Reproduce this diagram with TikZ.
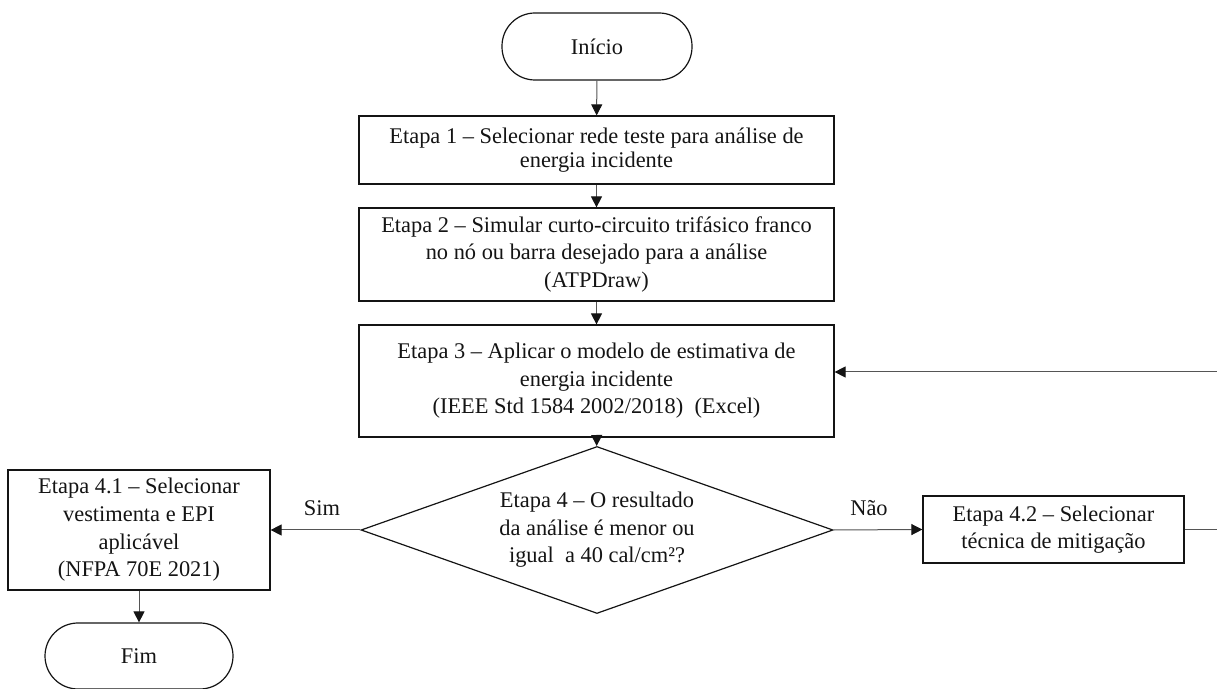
\documentclass[tikz,border=0pt]{standalone}
\usepackage{fontspec}
\setmainfont{Liberation Serif}
\usetikzlibrary{arrows.meta, shapes.geometric}
\definecolor{fluxblack}{RGB}{20, 20, 20}
\definecolor{fluxgray}{RGB}{85, 85, 85}

\begin{document}
\begin{tikzpicture}[x=0.5pt, y=-0.5pt,
    texto/.style={font=\fontsize{11.2}{13.8}\selectfont, text=fluxblack, align=center, inner sep=0pt},
    terminal/.style={texto, draw=fluxblack, line width=0.6pt, rectangle, rounded corners=16.5pt},
    etapa/.style={texto, draw=fluxblack, line width=0.6pt, rectangle},
    decisao/.style={texto, draw=fluxblack, line width=0.6pt, diamond, aspect=2.8},
    conector/.style={draw=fluxgray, line width=0.5pt, ->, >={Triangle[length=5.5pt, width=5.5pt, color=fluxblack]}}]

% Moldura da figura
\clip (0,0) rectangle (1217,689);

% Início
\node[terminal, minimum width=95pt, minimum height=33.5pt] (inicio) at (597,46.5) {Início};

% Etapas 1 a 3
\node[etapa, minimum width=237.5pt, minimum height=34pt, font=\fontsize{11.2}{12.2}\selectfont] (etapa1) at (596.5,150)
    {Etapa 1 – Selecionar rede teste para análise de\\ energia incidente};
\node[etapa, minimum width=237.5pt, minimum height=46.5pt] (etapa2) at (596.5,254.5)
    {Etapa 2 – Simular curto-circuito trifásico franco\\ no nó ou barra desejado para a análise\\ (ATPDraw)};
\node[etapa, minimum width=237.5pt, minimum height=56pt] (etapa3) at (596.5,381)
    {Etapa 3 – Aplicar o modelo de estimativa de\\ energia incidente\\ (IEEE Std 1584 2002/2018)\ \ (Excel)};

% Decisão
\node[decisao, minimum width=236pt, minimum height=83.5pt] (etapa4) at (597,530)
    {Etapa 4 – O resultado\\ da análise é menor ou\\ igual\ \ a 40 cal/cm²?};

% Ramos da decisão
\node[etapa, minimum width=131pt, minimum height=60pt] (etapa41) at (139,530)
    {Etapa 4.1 – Selecionar\\ vestimenta e EPI\\ aplicável\\ (NFPA 70E 2021)};
\node[etapa, minimum width=130.5pt, minimum height=33.5pt] (etapa42) at (1053.5,529.5)
    {Etapa 4.2 – Selecionar\\ técnica de mitigação};

% Fim
\node[terminal, minimum width=94pt, minimum height=33pt] (fim) at (139,656) {Fim};

% Rótulos
\node[texto] (sim) at (322,508) {Sim};
\node[texto] (nao) at (869,508) {Não};

% Fluxo principal
\draw[conector] (inicio) -- (etapa1);
\draw[conector] (etapa1) -- (etapa2);
\draw[conector] (etapa2) -- (etapa3);
\draw[conector] (etapa3) -- (etapa4);
\draw[conector] (etapa4.west) -- (etapa41.east);
\draw[conector] (etapa4.east) -- (etapa42.west);
\draw[conector] (etapa41) -- (fim);

% Retorno da mitigação para a etapa 3
\coordinate (retorno) at (1232,372);
\draw[conector] (etapa42.east) -- (etapa42.east -| retorno) -- (retorno) -- (retorno -| etapa3.east);

\end{tikzpicture}
\end{document}
